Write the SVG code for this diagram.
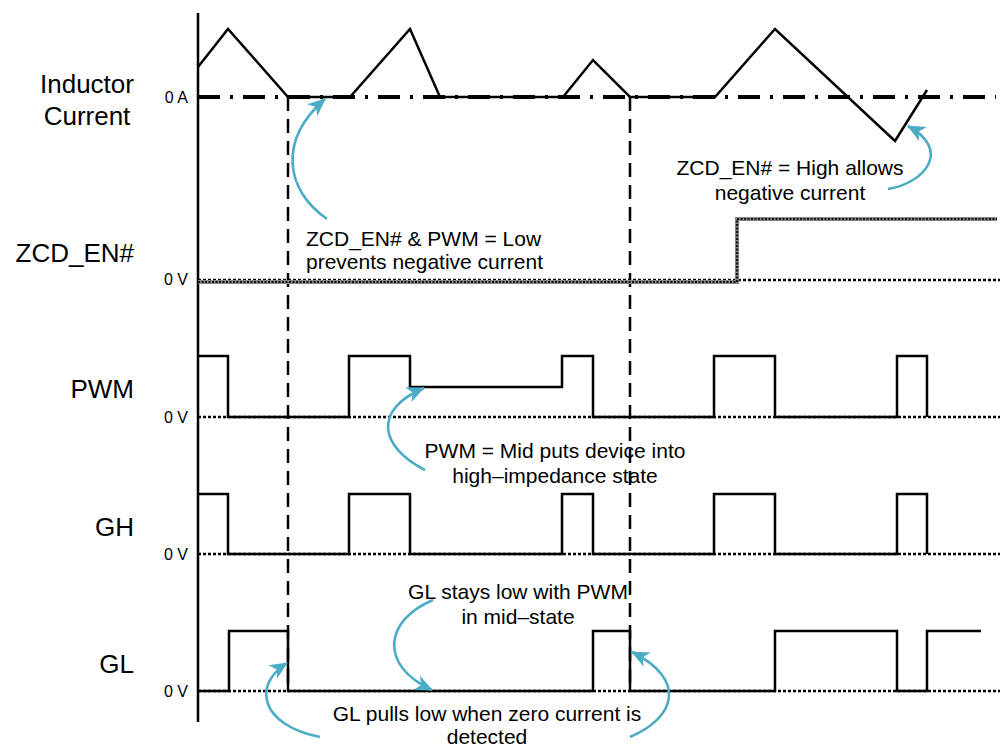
<svg xmlns="http://www.w3.org/2000/svg" width="1000" height="746" viewBox="0 0 1000 746">
<defs>
<style>
.lbl{font-family:"Liberation Sans",Arial,sans-serif;font-size:26px;fill:#000}
.sm{font-family:"Liberation Sans",Arial,sans-serif;font-size:16px;fill:#000;text-anchor:end}
.ann{font-family:"Liberation Sans",Arial,sans-serif;font-size:21px;fill:#000}
.wave{fill:none;stroke:#000;stroke-width:2.5;stroke-linejoin:miter}
.zero{fill:none;stroke:#000;stroke-width:2.6;stroke-dasharray:3 2}
.zeroA{fill:none;stroke:#000;stroke-width:3.8;stroke-dasharray:22 10 3 10}
.vdash{fill:none;stroke:#000;stroke-width:2.5;stroke-dasharray:14 8}
.call{fill:none;stroke:#4BACC6;stroke-width:2.6}
</style>
<marker id="ah" markerUnits="userSpaceOnUse" markerWidth="20" markerHeight="16" refX="17" refY="8" orient="auto">
<path d="M0,0 L18,8 L0,16 L5,8 z" fill="#4BACC6"/>
</marker>
</defs>

<g id="axis">
<line x1="198" y1="13" x2="198" y2="722" stroke="#000" stroke-width="2.5"/>
</g>

<g id="labels">
<text class="lbl" x="87" y="93" text-anchor="middle">Inductor</text>
<text class="lbl" x="87" y="125" text-anchor="middle">Current</text>
<text class="lbl" x="134" y="262" text-anchor="end">ZCD_EN#</text>
<text class="lbl" x="134" y="398" text-anchor="end">PWM</text>
<text class="lbl" x="134" y="536" text-anchor="end">GH</text>
<text class="lbl" x="134" y="673" text-anchor="end">GL</text>
<text class="sm" x="188" y="103">0 A</text>
<text class="sm" x="188" y="285">0 V</text>
<text class="sm" x="188" y="423">0 V</text>
<text class="sm" x="188" y="560">0 V</text>
<text class="sm" x="188" y="697">0 V</text>
</g>

<g id="baselines">
<line class="zeroA" x1="198" y1="97" x2="996" y2="97"/>
<line class="zero" x1="198" y1="280" x2="1000" y2="280"/>
<line class="zero" x1="198" y1="417" x2="1000" y2="417"/>
<line class="zero" x1="198" y1="554" x2="1000" y2="554"/>
<line class="zero" x1="198" y1="691" x2="1000" y2="691"/>
</g>

<g id="markers-vertical">
<line class="vdash" x1="288" y1="97" x2="288" y2="691"/>
<line class="vdash" x1="630" y1="97" x2="630" y2="691"/>
</g>

<g id="inductor-current">
<polyline class="wave" points="198,67 228,29 288,97 350,97 410,29 440,97 563,97 593,60 630,97 715,97 775,29 895,141 927,90"/>
</g>

<g id="zcd-en">
<polyline points="198,282 737,282 737,219 997,219" fill="none" stroke="#888" stroke-width="4.2"/>
<polyline points="198,282 737,282 737,219 997,219" fill="none" stroke="#111" stroke-width="2.2" stroke-dasharray="2 1.5"/>
</g>

<g id="pwm">
<polyline class="wave" points="198,356 228,356 228,417 349,417 349,356 410,356 410,387 562,387 562,356 593,356 593,417 714,417 714,356 775,356 775,417 897,417 897,356 927,356 927,417"/>
</g>

<g id="gh">
<polyline class="wave" points="198,494 228,494 228,554 349,554 349,494 410,494 410,554 562,554 562,494 593,494 593,554 714,554 714,494 775,494 775,554 897,554 897,494 927,494 927,554"/>
</g>

<g id="gl">
<polyline class="wave" points="198,691 229,691 229,631 288,631 288,691 593,691 593,631 630,631 630,691 775,691 775,631 897,631 897,691 927,691 927,631 981,631"/>
</g>

<g id="connectors">
<path class="call" marker-end="url(#ah)" d="M327,219 C285,190 278,140 325,99"/>
<path class="call" marker-end="url(#ah)" d="M888,189 C925,183 952,150 908,126"/>
<path class="call" marker-end="url(#ah)" d="M425,470 C380,447 372,410 424,388"/>
<path class="call" marker-end="url(#ah)" d="M433,600 C385,620 378,665 432,690"/>
<path class="call" marker-end="url(#ah)" d="M320,737 C260,725 252,685 287,663"/>
<path class="call" marker-end="url(#ah)" d="M630,737 C675,718 688,680 632,652"/>
</g>

<g id="annotations">
<text class="ann" x="306" y="246">ZCD_EN# &amp; PWM = Low</text>
<text class="ann" x="306" y="269">prevents negative current</text>
<text class="ann" x="790" y="175" text-anchor="middle">ZCD_EN# = High allows</text>
<text class="ann" x="790" y="200" text-anchor="middle">negative current</text>
<text class="ann" x="555" y="458" text-anchor="middle">PWM = Mid puts device into</text>
<text class="ann" x="555" y="483" text-anchor="middle">high–impedance state</text>
<text class="ann" x="518" y="599" text-anchor="middle">GL stays low with PWM</text>
<text class="ann" x="518" y="624" text-anchor="middle">in mid–state</text>
<text class="ann" x="487" y="721" text-anchor="middle">GL pulls low when zero current is</text>
<text class="ann" x="487" y="744" text-anchor="middle">detected</text>
</g>
</svg>
